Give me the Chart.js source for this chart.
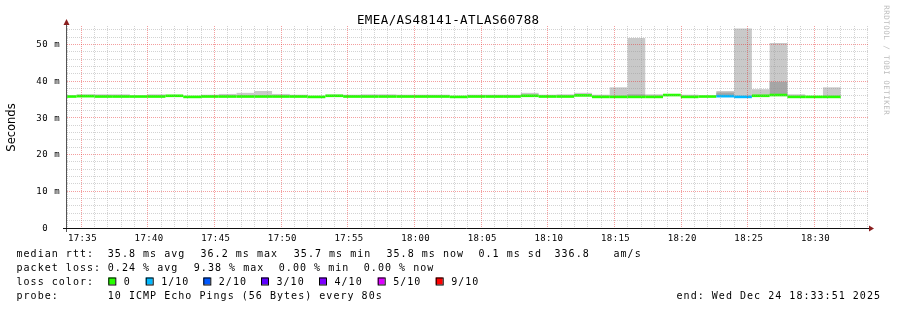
<!DOCTYPE html>
<html>
<head>
<meta charset="utf-8">
<script src="https://cdn.jsdelivr.net/npm/chart.js@4/dist/chart.umd.min.js"></script>
<style>
  html, body { margin: 0; padding: 0; background: #fff; }
  canvas { display: block; }
</style>
</head>
<body>
<canvas id="smoke" width="897" height="310"></canvas>
<script>
// centre time of each 80 s probe round
const barTimes = [
  '17:33:59', '17:35:19', '17:36:39', '17:37:59', '17:39:19', '17:40:39', '17:41:59', '17:43:19',
  '17:44:39', '17:45:59', '17:47:19', '17:48:39', '17:49:59', '17:51:19', '17:52:39', '17:53:59',
  '17:55:19', '17:56:39', '17:57:59', '17:59:19', '18:00:39', '18:01:59', '18:03:19', '18:04:39',
  '18:05:59', '18:07:19', '18:08:39', '18:09:59', '18:11:19', '18:12:39', '18:13:59', '18:15:19',
  '18:16:39', '18:17:59', '18:19:19', '18:20:39', '18:21:59', '18:23:19', '18:24:39', '18:25:59',
  '18:27:19', '18:28:39', '18:29:59', '18:31:19'
];

// median rtt per round (ms)
const medianMs = [
  35.8, 35.9, 35.8, 35.8, 35.8, 35.8, 36.0, 35.7, 35.8, 35.8,
  35.8, 35.8, 35.8, 35.8, 35.7, 36.0, 35.8, 35.8, 35.8, 35.8,
  35.8, 35.8, 35.7, 35.8, 35.8, 35.8, 36.0, 35.8, 35.8, 36.1,
  35.7, 35.7, 35.7, 35.7, 36.2, 35.7, 35.8, 35.9, 35.7, 36.0,
  36.2, 35.7, 35.7, 35.7
];

// top of the light smoke (slowest ping, ms)
const smokeMaxMs = [
  null, 36.4, 36.4, 36.4, null, 36.4, null, null, 36.3, 36.5,
  36.8, 37.3, 36.5, 36.3, null, 36.3, 36.3, 36.4, 36.4, 36.3,
  36.3, 36.3, null, 36.3, 36.3, 36.3, 36.8, 36.3, 36.4, 36.8,
  36.3, 38.3, 51.7, 36.4, null, 36.3, null, 37.3, 54.3, 37.8,
  50.4, 36.4, null, 38.3
];

// top of the darker smoke core (ms)
const smokeCoreMs = [
  null, null, null, null, null, null, null, null, null, null,
  null, null, null, null, null, null, null, null, null, null,
  null, null, null, null, null, null, null, null, null, null,
  null, null, 36.4, null, null, null, null, 36.9, null, null,
  39.8, null, null, null
];

// index into lossColors for each round
const lossIdx = [
  0, 0, 0, 0, 0, 0, 0, 0, 0, 0,
  0, 0, 0, 0, 0, 0, 0, 0, 0, 0,
  0, 0, 0, 0, 0, 0, 0, 0, 0, 0,
  0, 0, 0, 0, 0, 0, 0, 1, 1, 0,
  0, 0, 0, 0
];

const lossColors = ['#26ff00', '#00b8ff', '#0059ff', '#5e00ff', '#7e00ff', '#dd00ff', '#ff0000'];
const lossLabels = ['0', '1/10', '2/10', '3/10', '4/10', '5/10', '9/10'];

const xTickLabels = ['17:35', '17:40', '17:45', '17:50', '17:55', '18:00',
                     '18:05', '18:10', '18:15', '18:20', '18:25', '18:30'];
const yTickValues = [0, 10, 20, 30, 40, 50];
const yTickLabels = ['0', '10 m', '20 m', '30 m', '40 m', '50 m'];

const X_MIN = 33.93, X_MAX = 94.03;   // minutes after 17:00
const MED_HALF = 0.36;                // half thickness of median line (ms)
// bars sit 80 s apart but the 1 min grid ticks set the ruler, so stretch by 80/60
const BAR_PCT = 80 / 60;

function toMin(hms) {
    const p = hms.split(':').map(Number);
    return (p[0] - 17) * 60 + p[1] + (p[2] || 0) / 60;
}

const xs = barTimes.map(toMin);

const medianData = xs.map((x, i) => ({ x, y: [medianMs[i] - MED_HALF, medianMs[i] + MED_HALF] }));
const smokeData = xs.map((x, i) => ({ x, y: smokeMaxMs[i] == null ? null : [medianMs[i], smokeMaxMs[i]] }))
                    .filter(d => d.y);
const coreData = xs.map((x, i) => ({ x, y: smokeCoreMs[i] == null ? null : [medianMs[i], smokeCoreMs[i]] }))
                   .filter(d => d.y);

function monoText(ctx, str, x, y, pitch) {
    ctx.textAlign = 'center';
    for (let i = 0; i < str.length; i++) {
        if (str[i] !== ' ') ctx.fillText(str[i], x + (i + 0.5) * pitch, y);
    }
}

const rrdDecor = {
    id: 'rrdDecor',
    afterDraw(chart) {
        const ctx = chart.ctx;
        const area = chart.chartArea;
        const xs = chart.scales.x, ys = chart.scales.y;
        ctx.save();
        ctx.fillStyle = '#000';
        ctx.textBaseline = 'alphabetic';

        // axes
        ctx.strokeStyle = '#555';
        ctx.lineWidth = 1;
        ctx.beginPath();
        ctx.moveTo(area.left - 0.5, area.bottom + 4);
        ctx.lineTo(area.left - 0.5, area.top - 3);
        ctx.stroke();
        ctx.strokeStyle = '#111';
        ctx.beginPath();
        ctx.moveTo(area.left - 4, area.bottom + 0.5);
        ctx.lineTo(area.right + 2, area.bottom + 0.5);
        ctx.stroke();
        ctx.fillStyle = '#8a1f1f';
        ctx.beginPath();
        ctx.moveTo(area.left - 0.5, area.top - 7);
        ctx.lineTo(area.left - 3.5, area.top - 1);
        ctx.lineTo(area.left + 2.5, area.top - 1);
        ctx.closePath();
        ctx.fill();
        ctx.beginPath();
        ctx.moveTo(area.right + 6, area.bottom + 0.5);
        ctx.lineTo(area.right + 1, area.bottom - 2.5);
        ctx.lineTo(area.right + 1, area.bottom + 3.5);
        ctx.closePath();
        ctx.fill();

        ctx.fillStyle = '#000';

        // title
        const title = 'EMEA/AS48141-ATLAS60788';
        ctx.font = '12.5px "DejaVu Sans Mono"';
        monoText(ctx, title, 448 - title.length * 7.94 / 2, 24.3, 7.94);

        // y axis title
        ctx.save();
        ctx.translate(14.5, 127.5);
        ctx.rotate(-Math.PI / 2);
        ctx.font = '11.5px "DejaVu Sans"';
        ctx.textAlign = 'center';
        ctx.fillText('Seconds', 0, 0);
        ctx.restore();

        // y tick labels
        ctx.font = '9px "DejaVu Sans Mono"';
        ctx.textBaseline = 'middle';
        yTickValues.forEach((v, i) => {
            const py = ys.getPixelForValue(v) + 0.5;
            const lab = yTickLabels[i];
            if (lab.length === 1) monoText(ctx, lab, 42, py, 6);
            else monoText(ctx, lab, 60 - lab.length * 6, py, 6);
        });

        // x tick labels
        ctx.textBaseline = 'alphabetic';
        xTickLabels.forEach(lab => {
            const px = xs.getPixelForValue(toMin(lab)) + 1;
            monoText(ctx, lab, px - lab.length * 5.8 / 2, 240.7, 5.8);
        });

        // legend
        ctx.font = '10px "DejaVu Sans Mono"';
        const P = 7.05;
        const rows = [
            [257.3, [[16, 'median rtt:'], [107.3, '35.8 ms avg'], [200, '36.2 ms max'], [293.3, '35.7 ms min'],
                     [386, '35.8 ms now'], [478, '0.1 ms sd'], [554, '336.8'], [613, 'am/s']]],
            [271.3, [[16, 'packet loss:'], [107.3, '0.24 % avg'], [193.3, '9.38 % max'], [278.3, '0.00 % min'],
                     [363.3, '0.00 % now']]],
            [285.3, [[16, 'loss color:']]],
            [299.3, [[16, 'probe:'], [107.3, '10 ICMP Echo Pings (56 Bytes) every 80s']]]
        ];
        rows.forEach(([y, segs]) => segs.forEach(([x, s]) => monoText(ctx, s, x, y, P)));
        const endTxt = 'end: Wed Dec 24 18:33:51 2025';
        monoText(ctx, endTxt, 880.5 - endTxt.length * P, 299.3, P);

        const boxX = [108.3, 145.7, 203.3, 261, 319, 377.7, 435.7];
        lossColors.forEach((c, i) => {
            ctx.fillStyle = c;
            ctx.fillRect(boxX[i], 277.5, 7, 7);
            ctx.strokeStyle = '#000';
            ctx.strokeRect(boxX[i] + 0.5, 278, 7, 7);
            ctx.fillStyle = '#000';
            monoText(ctx, lossLabels[i], boxX[i] + 15, 285.3, P);
        });

        // watermark
        ctx.save();
        ctx.translate(886, 5);
        ctx.rotate(Math.PI / 2);
        ctx.fillStyle = '#bdbdbd';
        ctx.font = '7.5px "DejaVu Sans Mono"';
        ctx.textBaseline = 'middle';
        monoText(ctx, 'RRDTOOL / TOBI OETIKER', 0, 0, 5);
        ctx.restore();

        ctx.restore();
    }
};

const minuteTicks = [];
for (let m = 34; m <= 94; m++) minuteTicks.push(m);
const msTicks = [];
for (let v = 0; v <= 54; v += 2) msTicks.push(v);

function xGridColor(c) {
    const v = c.tick.value;
    if (v % 5 === 0) return 'rgba(230,40,40,0.45)';
    return 'rgba(150,150,150,0.42)';
}
function yGridColor(c) {
    const v = c.tick.value;
    if (v === 0) return 'rgba(0,0,0,0)';
    if (v % 10 === 0) return 'rgba(230,40,40,0.45)';
    return 'rgba(150,150,150,0.42)';
}

const barCommon = { grouped: false, barPercentage: BAR_PCT, categoryPercentage: 1, borderWidth: 0 };

new Chart(document.getElementById('smoke'), {
    type: 'bar',
    data: {
        datasets: [
            Object.assign({ label: 'median', data: medianData, backgroundColor: lossIdx.map(k => lossColors[k]), order: 0 }, barCommon),
            Object.assign({ label: 'core', data: coreData, backgroundColor: '#a6a6a6', order: 1 }, barCommon),
            Object.assign({ label: 'smoke', data: smokeData, backgroundColor: '#c9c9c9', order: 2 }, barCommon)
        ]
    },
    options: {
        responsive: false,
        animation: false,
        devicePixelRatio: 1,
        events: [],
        layout: { padding: { left: 67, right: 29, top: 26, bottom: 82 } },
        plugins: { legend: { display: false }, tooltip: { enabled: false } },
        scales: {
            x: {
                type: 'linear', min: X_MIN, max: X_MAX, offset: false,
                afterBuildTicks: s => { s.ticks = minuteTicks.map(v => ({ value: v })); },
                afterFit: s => { s.height = 0; },
                ticks: { display: false },
                grid: { z: 1, offset: false, drawTicks: false, lineWidth: 1, color: xGridColor },
                border: { display: false, dash: [1, 1] }
            },
            y: {
                min: 0, max: 55,
                afterBuildTicks: s => { s.ticks = msTicks.map(v => ({ value: v })); },
                afterFit: s => { s.width = 0; },
                ticks: { display: false },
                grid: { z: 1, drawTicks: false, lineWidth: 1, color: yGridColor },
                border: { display: false, dash: [1, 1] }
            }
        }
    },
    plugins: [rrdDecor]
});
</script>
</body>
</html>
